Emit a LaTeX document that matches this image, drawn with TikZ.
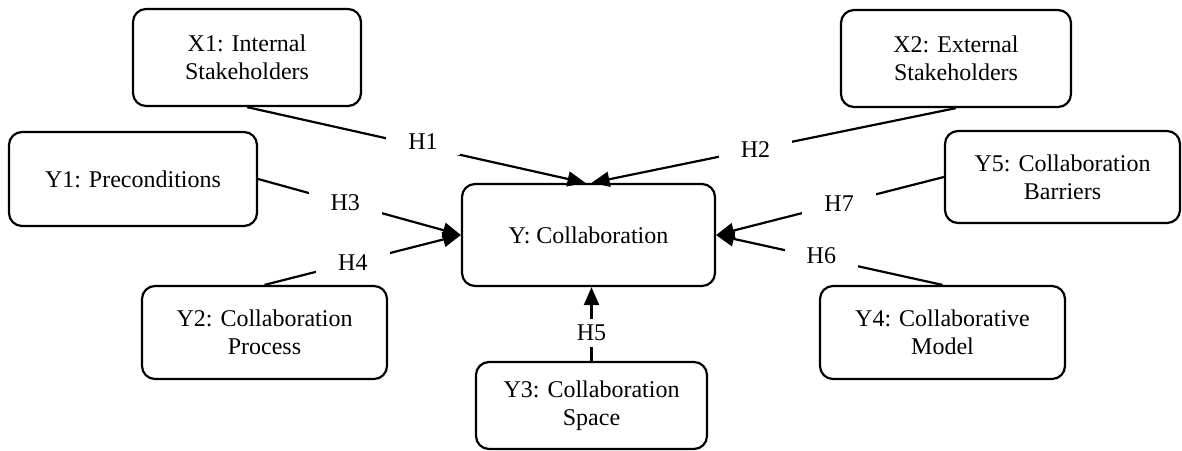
\documentclass[tikz,border=0pt]{standalone}
\usepackage{fontspec}
\setmainfont{Liberation Serif}
\newfontfamily\tnrfont{Liberation Serif}
\usetikzlibrary{arrows.meta}
\tikzset{
  box/.style={draw, line width=2.2pt, rounded corners=13pt, align=center, inner sep=0pt,
    font=\tnrfont\fontsize{24}{28}\selectfont},
  conn/.style={line width=2.2pt},
  arr/.style={conn, -{Triangle[length=18pt,width=15pt]}},
  lbl/.style={fill=white, inner xsep=22pt, inner ysep=6pt, font=\tnrfont\fontsize{24}{28}\selectfont}
}
\begin{document}
\begin{tikzpicture}[x=1pt,y=-1pt]
\useasboundingbox (0,0) rectangle (1182,450);
\node[box, minimum width=228pt, minimum height=97pt] (X1) at (247,57.5) {X1: Internal\\Stakeholders};
\node[box, minimum width=230pt, minimum height=97pt] (X2) at (956,58.5) {X2: External\\Stakeholders};
\node[box, minimum width=248pt, minimum height=94pt] (Y1) at (133,179) {Y1: Preconditions};
\node[box, minimum width=235pt, minimum height=92pt] (Y5) at (1062.5,177) {Y5: Collaboration\\Barriers};
\node[box, minimum width=253pt, minimum height=102pt] (Y) at (588.5,235) {Y: Collaboration};
\node[box, minimum width=245pt, minimum height=93pt] (Y2) at (264.5,332.5) {Y2: Collaboration\\Process};
\node[box, minimum width=245pt, minimum height=93pt] (Y4) at (942.5,332.5) {Y4: Collaborative\\Model};
\node[box, minimum width=231pt, minimum height=87pt] (Y3) at (591.5,405.5) {Y3: Collaboration\\Space};

\draw[arr] (X1.south) -- node[lbl, pos=0.52, yshift=5pt] {H1} ([xshift=-3pt]Y.north);
\draw[arr] (X2.south) -- node[lbl, pos=0.55] {H2} ([xshift=3pt]Y.north);
\draw[arr] (Y1.east) -- node[lbl, pos=0.43] {H3} (Y.west);
\draw[arr] (Y2.north) -- node[lbl, pos=0.45] {H4} (Y.west);
\draw[arr] (Y3.north) -- node[lbl, pos=0.38] {H5} (Y3.north |- Y.south);
\draw[arr] (Y4.north) -- node[lbl, pos=0.535, yshift=3pt] {H6} (Y.east);
\draw[arr] (Y5.west) -- node[lbl, pos=0.46] {H7} (Y.east);
\end{tikzpicture}
\end{document}
